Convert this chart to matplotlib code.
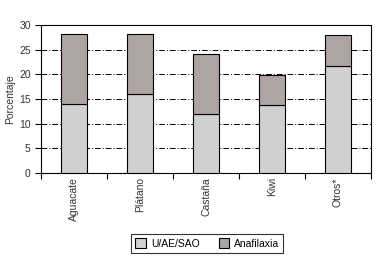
import numpy as np
import matplotlib
matplotlib.use("Agg")
import matplotlib.pyplot as plt

plt.rcParams['font.family'] = ['Liberation Sans', 'DejaVu Sans']

categorias = ["Aguacate", "Plátano", "Castaña", "Kiwi", "Otros*"]
u_ae_sao = [14.0, 16.0, 12.0, 13.8, 21.7]
anafilaxia = [14.2, 12.2, 12.2, 6.1, 6.3]

fig = plt.figure(figsize=(3.77, 2.62), dpi=100)
ax = fig.add_axes([0.109, 0.340, 0.875, 0.565])

x = np.arange(len(categorias))
ax.bar(x, u_ae_sao, width=0.39, color="#d0d0d0", edgecolor="black", linewidth=0.8,
       label="U/AE/SAO", zorder=3)
ax.bar(x, anafilaxia, width=0.39, bottom=u_ae_sao, color="#aea4a4", edgecolor="black",
       linewidth=0.8, label="Anafilaxia", zorder=3)

ax.set_xlim(-0.5, len(categorias) - 0.5)
ax.set_ylim(0, 30)
ax.set_yticks(range(0, 31, 5))
ax.yaxis.grid(True, color="black", linestyle=(0, (6, 2, 1, 2)), linewidth=0.7, zorder=0)
ax.set_xticks(x)
ax.set_xticklabels(categorias, rotation=90, fontsize=7.5, color="#333333")
ax.set_xticks(np.arange(-0.5, len(categorias)), minor=True)
ax.tick_params(axis="x", which="major", length=0, pad=3)
ax.tick_params(axis="x", which="minor", length=4, width=0.8)
ax.tick_params(axis="y", labelsize=7.5, length=4, width=0.8, labelcolor="#333333")
ax.set_ylabel("Porcentaje", fontsize=7.5, color="#333333", labelpad=3)
for s in ax.spines.values():
    s.set_linewidth(0.8)

fig.legend(loc="lower center", bbox_to_anchor=(0.55, 0.015), ncol=2, fontsize=7.5,
           frameon=True, fancybox=False, edgecolor="black", handlelength=1.0,
           handleheight=1.0, columnspacing=1.8, handletextpad=0.5,
           borderpad=0.4).get_frame().set_linewidth(0.8)

fig.savefig("out.png", dpi=100)
